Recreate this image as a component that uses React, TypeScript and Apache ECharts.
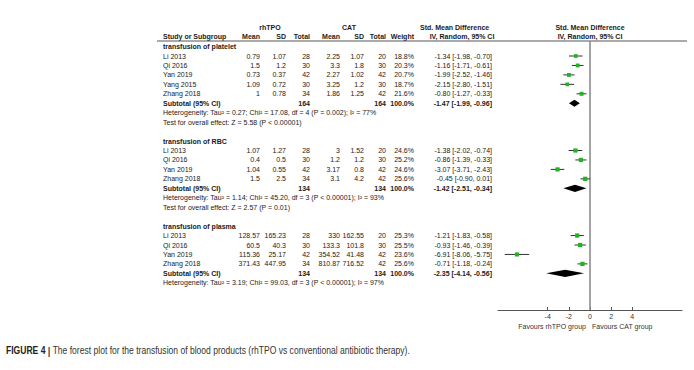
import React, { useEffect, useRef } from "react";
import * as echarts from "echarts";

// ---------- data ----------
const groupTitles = ["transfusion of platelet", "transfusion of RBC", "transfusion of plasma"];

// platelet
const plStudies = ["Li 2013", "Qi 2016", "Yan 2019", "Yang 2015", "Zhang 2018"];
const plRhMean = [0.79, 1.5, 0.73, 1.09, 1];
const plRhSD = [1.07, 1.2, 0.37, 0.72, 0.78];
const plRhN = [28, 30, 42, 30, 34];
const plCatMean = [2.25, 3.3, 2.27, 3.25, 1.86];
const plCatSD = [1.07, 1.8, 1.02, 1.2, 1.25];
const plCatN = [20, 30, 42, 30, 42];
const plWeight = [18.8, 20.3, 20.7, 18.7, 21.6];
const plSMD = [-1.34, -1.16, -1.99, -2.15, -0.8];
const plLo = [-1.98, -1.71, -2.52, -2.8, -1.27];
const plHi = [-0.7, -0.61, -1.46, -1.51, -0.33];
const plTotal = [-1.47, -1.99, -0.96];
const plHet = "Heterogeneity: Tau² = 0.27; Chi² = 17.08, df = 4 (P = 0.002); I² = 77%";
const plTest = "Test for overall effect: Z = 5.58 (P < 0.00001)";

// RBC
const rbcStudies = ["Li 2013", "Qi 2016", "Yan 2019", "Zhang 2018"];
const rbcRhMean = [1.07, 0.4, 1.04, 1.5];
const rbcRhSD = [1.27, 0.5, 0.55, 2.5];
const rbcRhN = [28, 30, 42, 34];
const rbcCatMean = [3, 1.2, 3.17, 3.1];
const rbcCatSD = [1.52, 1.2, 0.8, 4.2];
const rbcCatN = [20, 30, 42, 42];
const rbcWeight = [24.6, 25.2, 24.6, 25.6];
const rbcSMD = [-1.38, -0.86, -3.07, -0.45];
const rbcLo = [-2.02, -1.39, -3.71, -0.9];
const rbcHi = [-0.74, -0.33, -2.43, 0.01];
const rbcTotal = [-1.42, -2.51, -0.34];
const rbcHet = "Heterogeneity: Tau² = 1.14; Chi² = 45.20, df = 3 (P < 0.00001); I² = 93%";
const rbcTest = "Test for overall effect: Z = 2.57 (P = 0.01)";

// plasma
const paStudies = ["Li 2013", "Qi 2016", "Yan 2019", "Zhang 2018"];
const paRhMean = [128.57, 60.5, 115.36, 371.43];
const paRhSD = [165.23, 40.3, 25.17, 447.95];
const paRhN = [28, 30, 42, 34];
const paCatMean = [330, 133.3, 354.52, 810.87];
const paCatSD = [162.55, 101.8, 41.48, 716.52];
const paCatN = [20, 30, 42, 42];
const paWeight = [25.3, 25.5, 23.6, 25.6];
const paSMD = [-1.21, -0.93, -6.91, -0.71];
const paLo = [-1.83, -1.46, -8.06, -1.18];
const paHi = [-0.58, -0.39, -5.75, -0.24];
const paTotal = [-2.35, -4.14, -0.56];
const paHet = "Heterogeneity: Tau² = 3.19; Chi² = 99.03, df = 3 (P < 0.00001); I² = 97%";
const paTest = "";

const xTicks = [-4, -2, 0, 2, 4];
const xMin = -8.7;
const xMax = 8.7;

// ---------- layout constants ----------
const FAMILY = "Liberation Sans";
const FS = 7;
const TXT = "#1a1a1a";
const ROW0 = 56;
const ROW_H = 9.45;
const GRID_TOP = 41;
const GRID_BOT = 310;
const GRID_LEFT = 498;
const GRID_RIGHT = 682;
const yMin = (GRID_TOP - ROW0) / ROW_H;
const yMax = (GRID_BOT - ROW0) / ROW_H;

// columns: [x, align]
const COLS: [number, string][] = [
  [163, "left"],
  [260, "right"],
  [286, "right"],
  [310, "right"],
  [340, "right"],
  [364, "right"],
  [386, "right"],
  [414, "right"],
  [492, "right"],
];

const groups = [
  { title: groupTitles[0], names: plStudies, m1: plRhMean, s1: plRhSD, n1: plRhN, m2: plCatMean, s2: plCatSD, n2: plCatN, w: plWeight, smd: plSMD, lo: plLo, hi: plHi, tot: plTotal, het: plHet, test: plTest },
  { title: groupTitles[1], names: rbcStudies, m1: rbcRhMean, s1: rbcRhSD, n1: rbcRhN, m2: rbcCatMean, s2: rbcCatSD, n2: rbcCatN, w: rbcWeight, smd: rbcSMD, lo: rbcLo, hi: rbcHi, tot: rbcTotal, het: rbcHet, test: rbcTest },
  { title: groupTitles[2], names: paStudies, m1: paRhMean, s1: paRhSD, n1: paRhN, m2: paCatMean, s2: paCatSD, n2: paCatN, w: paWeight, smd: paSMD, lo: paLo, hi: paHi, tot: paTotal, het: paHet, test: paTest },
];

const ci = (a: number, b: number, c: number) => `${a.toFixed(2)} [${b.toFixed(2)}, ${c.toFixed(2)}]`;
const sum = (a: number[]) => a.reduce((p, v) => p + v, 0);

type Row = { row: number; kind: string; cells: string[]; bold: boolean };
const tableRows: Row[] = [];
const studyPts: number[][] = [];
const diamondPts: number[][] = [];
{
  let i = -1;
  for (const g of groups) {
    tableRows.push({ row: i, kind: "text", cells: [g.title], bold: true });
    i++;
    for (let k = 0; k < g.names.length; k++) {
      tableRows.push({
        row: i,
        kind: "cells",
        bold: false,
        cells: [g.names[k], String(g.m1[k]), String(g.s1[k]), String(g.n1[k]), String(g.m2[k]), String(g.s2[k]), String(g.n2[k]), g.w[k].toFixed(1) + "%", ci(g.smd[k], g.lo[k], g.hi[k])],
      });
      studyPts.push([g.smd[k], i, g.lo[k], g.hi[k], g.w[k]]);
      i++;
    }
    tableRows.push({
      row: i,
      kind: "cells",
      bold: true,
      cells: ["Subtotal (95% CI)", "", "", String(sum(g.n1)), "", "", String(sum(g.n2)), "100.0%", ci(g.tot[0], g.tot[1], g.tot[2])],
    });
    diamondPts.push([g.tot[0], i, g.tot[1], g.tot[2]]);
    i++;
    tableRows.push({ row: i, kind: "text", cells: [g.het], bold: false });
    i++;
    if (g.test) {
      tableRows.push({ row: i, kind: "text", cells: [g.test], bold: false });
      i++;
    }
    i++;
  }
}

function txt(x: number, y: number, text: string, bold: boolean, align: string, fill = TXT) {
  return {
    type: "text",
    x,
    y,
    style: {
      text,
      fontSize: FS,
      fontFamily: FAMILY,
      fontWeight: bold ? "bold" : "normal",
      fill,
      align,
      verticalAlign: "middle",
      textAlign: align,
      textVerticalAlign: "middle",
    },
  };
}

export default function App() {
  const ref = useRef<HTMLDivElement>(null);
  useEffect(() => {
    if (!ref.current) return;
    const chart = echarts.init(ref.current, undefined, { renderer: "svg" });
    const HY1 = 27;
    const HY2 = 36;
    const headerTexts: any[] = [
      txt(270, HY1, "rhTPO", true, "center"),
      txt(349, HY1, "CAT", true, "center"),
      txt(420, HY1, "Std. Mean Difference", true, "left"),
      txt(590, HY1, "Std. Mean Difference", true, "center"),
      txt(COLS[0][0], HY2, "Study or Subgroup", true, "left"),
      txt(COLS[1][0], HY2, "Mean", true, "right"),
      txt(COLS[2][0], HY2, "SD", true, "right"),
      txt(COLS[3][0], HY2, "Total", true, "right"),
      txt(COLS[4][0], HY2, "Mean", true, "right"),
      txt(COLS[5][0], HY2, "SD", true, "right"),
      txt(COLS[6][0], HY2, "Total", true, "right"),
      txt(COLS[7][0], HY2, "Weight", true, "right"),
      txt(462, HY2, "IV, Random, 95% CI", true, "center"),
      txt(590, HY2, "IV, Random, 95% CI", true, "center"),
      {
        type: "line",
        shape: { x1: 157, y1: GRID_TOP, x2: 687, y2: GRID_TOP },
        style: { stroke: "#555", lineWidth: 1 },
      },
      txt(586, 326, "Favours rhTPO group", false, "right", "#333"),
      txt(592, 326, "Favours CAT group", false, "left", "#333"),
      {
        type: "text",
        x: 6,
        y: 351,
        scaleX: 0.855,
        style: {
          text: "{b|FIGURE 4} {p||} The forest plot for the transfusion of blood products (rhTPO vs conventional antibiotic therapy).",
          fontSize: 10,
          fontFamily: FAMILY,
          fill: "#333",
          verticalAlign: "middle",
          textVerticalAlign: "middle",
          rich: {
            b: { fontWeight: "bold", fontSize: 10, fontFamily: FAMILY, fill: "#222", color: "#222" },
            p: { fontWeight: "bold", fontSize: 11, fontFamily: FAMILY, fill: "#444", color: "#444" },
          },
        },
      },
    ];

    const option: any = {
      animation: false,
      backgroundColor: "#ffffff",
      grid: { left: GRID_LEFT, top: GRID_TOP, width: GRID_RIGHT - GRID_LEFT, height: GRID_BOT - GRID_TOP, containLabel: false },
      xAxis: {
        type: "value",
        min: xMin,
        max: xMax,
        position: "bottom",
        axisLine: { show: true, onZero: false, lineStyle: { color: "#555", width: 1 } },
        axisTick: { show: true, inside: true, length: 3, customValues: xTicks, lineStyle: { color: "#555" } },
        axisLabel: { show: true, customValues: xTicks, fontSize: FS, color: "#333", margin: 3, fontFamily: FAMILY },
        splitLine: { show: false },
      },
      yAxis: {
        type: "value",
        inverse: true,
        min: yMin,
        max: yMax,
        show: false,
        axisLine: { show: false, onZero: false },
        splitLine: { show: false },
      },
      graphic: { elements: headerTexts },
      series: [
        {
          type: "custom",
          silent: true,
          clip: false,
          data: [[0, 0]],
          renderItem: (_p: any, api: any) => {
            const a = api.coord([0, yMin]);
            const b = api.coord([0, yMax]);
            return {
              type: "line",
              shape: { x1: a[0], y1: a[1], x2: b[0], y2: b[1] },
              style: { stroke: "#8c8c8c", lineWidth: 1.6 },
            };
          },
          z: 1,
        },
        {
          type: "custom",
          silent: true,
          clip: false,
          data: tableRows.map((r) => [0, r.row]),
          renderItem: (p: any, api: any) => {
            const r = tableRows[p.dataIndex];
            const y = api.coord([0, r.row])[1];
            const children: any[] = [];
            if (r.kind === "text") {
              children.push(txt(COLS[0][0], y, r.cells[0], r.bold, "left"));
            } else {
              r.cells.forEach((c, k) => {
                if (c) children.push(txt(COLS[k][0], y, c, r.bold, COLS[k][1]));
              });
            }
            return { type: "group", children };
          },
        },
        {
          type: "custom",
          silent: true,
          clip: false,
          data: studyPts,
          encode: { x: [0, 2, 3], y: 1 },
          renderItem: (_p: any, api: any) => {
            const row = api.value(1);
            const m = api.coord([api.value(0), row]);
            const lo = api.coord([api.value(2), row]);
            const hi = api.coord([api.value(3), row]);
            const s = Math.sqrt(api.value(4)) * 0.85;
            return {
              type: "group",
              children: [
                { type: "line", shape: { x1: lo[0], y1: lo[1], x2: hi[0], y2: hi[1] }, style: { stroke: "#333", lineWidth: 1 } },
                { type: "rect", shape: { x: m[0] - s / 2, y: m[1] - s / 2, width: s, height: s }, style: { fill: "#22b322" } },
              ],
            };
          },
          z: 3,
        },
        {
          type: "custom",
          silent: true,
          clip: false,
          data: diamondPts,
          encode: { x: [0, 2, 3], y: 1 },
          renderItem: (_p: any, api: any) => {
            const row = api.value(1);
            const m = api.coord([api.value(0), row]);
            const lo = api.coord([api.value(2), row]);
            const hi = api.coord([api.value(3), row]);
            const h = 3.6;
            return {
              type: "polygon",
              shape: { points: [[lo[0], lo[1]], [m[0], m[1] - h], [hi[0], hi[1]], [m[0], m[1] + h]] },
              style: { fill: "#000" },
            };
          },
          z: 3,
        },
      ],
    };
    chart.setOption(option);
    return () => chart.dispose();
  }, []);
  return <div ref={ref} style={{ position: "fixed", left: 0, top: 0, width: 694, height: 370 }} />;
}
